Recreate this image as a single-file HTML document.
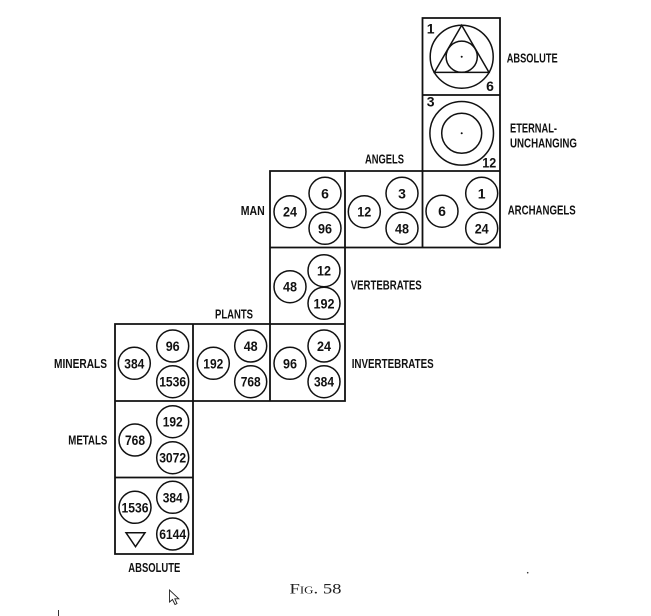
<!DOCTYPE html>
<html><head><meta charset="utf-8"><style>
html,body{margin:0;padding:0;background:#fff;}
svg{display:block;}
.l{font-family:"Liberation Sans",sans-serif;font-weight:bold;font-size:12.5px;fill:#111;}
.n{font-family:"Liberation Sans",sans-serif;font-weight:bold;font-size:14px;fill:#111;text-anchor:middle;}
</style></head><body>
<svg width="651" height="616" viewBox="0 0 651 616" xmlns="http://www.w3.org/2000/svg">
<rect width="651" height="616" fill="#fff"/>
<g fill="none" stroke="#111" stroke-width="1.8">
<path d="M422.5,18 L500,18 L500,247.5 L345,247.5 L345,401 L193,401 L193,554 L115,554 L115,324 L270,324 L270,171 L422.5,171 Z"/>
<path d="M422.5,95 H500 M422.5,171 H500 M345,171 V247.5 M422.5,171 V247.5 M270,247.5 H345 M270,324 H345 M193,324 V401 M270,324 V401 M115,401 H193 M115,477.5 H193"/>
</g>
<!-- top cell -->
<g fill="none" stroke="#111" stroke-width="1.5">
<circle cx="461.7" cy="56.7" r="31.5"/>
<polygon points="461.7,25.2 489,72.4 434.4,72.4"/>
<circle cx="461.7" cy="56.7" r="15.6"/>
<circle cx="461.7" cy="133.3" r="31.8"/>
<circle cx="461.7" cy="133.3" r="20"/>
</g>
<circle cx="461.7" cy="56.7" r="1" fill="#111"/>
<circle cx="461.7" cy="133.3" r="1" fill="#111"/>
<text class="n" x="430.7" y="33.3">1</text>
<text class="n" x="490" y="91">6</text>
<text class="n" x="430.7" y="106.7">3</text>
<text class="n" x="489.3" y="167.7" textLength="14" lengthAdjust="spacingAndGlyphs">12</text>

<!-- circles -->
<g fill="none" stroke="#111" stroke-width="1.5">
<circle cx="290" cy="211.7" r="16"/><circle cx="325" cy="193.3" r="16"/><circle cx="325" cy="228.3" r="16"/>
<circle cx="364.3" cy="211.7" r="16"/><circle cx="402" cy="193.3" r="16"/><circle cx="402" cy="228.3" r="16"/>
<circle cx="442" cy="211.2" r="16"/><circle cx="481.7" cy="193.3" r="16"/><circle cx="481.7" cy="228.3" r="16"/>
<circle cx="290" cy="286.7" r="16"/><circle cx="324" cy="270.7" r="16"/><circle cx="324" cy="303.3" r="16"/>
<circle cx="134.3" cy="363.3" r="16"/><circle cx="172.7" cy="346" r="16"/><circle cx="172.7" cy="381.7" r="16"/>
<circle cx="213.3" cy="363.3" r="16"/><circle cx="250.7" cy="346" r="16"/><circle cx="250.7" cy="381.7" r="16"/>
<circle cx="290" cy="363.3" r="16"/><circle cx="324" cy="346" r="16"/><circle cx="324" cy="381.7" r="16"/>
<circle cx="135" cy="440" r="16"/><circle cx="172.7" cy="421.7" r="16"/><circle cx="172.7" cy="457.7" r="16"/>
<circle cx="135" cy="507.3" r="16"/><circle cx="172.7" cy="497.3" r="16"/><circle cx="172.7" cy="534" r="16"/>
<polygon points="126,532.7 145,532.7 135.5,546.7"/>
</g>
<g>
<text class="n" x="290" y="216.7" textLength="14" lengthAdjust="spacingAndGlyphs">24</text>
<text class="n" x="325" y="198.3">6</text>
<text class="n" x="325" y="233.3" textLength="14" lengthAdjust="spacingAndGlyphs">96</text>
<text class="n" x="364.3" y="216.7" textLength="14" lengthAdjust="spacingAndGlyphs">12</text>
<text class="n" x="402" y="198.3">3</text>
<text class="n" x="402" y="233.3" textLength="14" lengthAdjust="spacingAndGlyphs">48</text>
<text class="n" x="442" y="216.2">6</text>
<text class="n" x="481.7" y="198.3">1</text>
<text class="n" x="481.7" y="233.3" textLength="14" lengthAdjust="spacingAndGlyphs">24</text>
<text class="n" x="290" y="291.7" textLength="14" lengthAdjust="spacingAndGlyphs">48</text>
<text class="n" x="324" y="275.7" textLength="14" lengthAdjust="spacingAndGlyphs">12</text>
<text class="n" x="324" y="308.3" textLength="21" lengthAdjust="spacingAndGlyphs">192</text>
<text class="n" x="134.3" y="368.3" textLength="20" lengthAdjust="spacingAndGlyphs">384</text>
<text class="n" x="172.7" y="351" textLength="14" lengthAdjust="spacingAndGlyphs">96</text>
<text class="n" x="172.7" y="386.7" textLength="27" lengthAdjust="spacingAndGlyphs">1536</text>
<text class="n" x="213.3" y="368.3" textLength="20" lengthAdjust="spacingAndGlyphs">192</text>
<text class="n" x="250.7" y="351" textLength="14" lengthAdjust="spacingAndGlyphs">48</text>
<text class="n" x="250.7" y="386.7" textLength="20" lengthAdjust="spacingAndGlyphs">768</text>
<text class="n" x="290" y="368.3" textLength="14" lengthAdjust="spacingAndGlyphs">96</text>
<text class="n" x="324" y="351" textLength="14" lengthAdjust="spacingAndGlyphs">24</text>
<text class="n" x="324" y="386.7" textLength="20" lengthAdjust="spacingAndGlyphs">384</text>
<text class="n" x="135" y="445" textLength="20" lengthAdjust="spacingAndGlyphs">768</text>
<text class="n" x="172.7" y="426.7" textLength="20" lengthAdjust="spacingAndGlyphs">192</text>
<text class="n" x="172.7" y="462.7" textLength="27" lengthAdjust="spacingAndGlyphs">3072</text>
<text class="n" x="135" y="512.3" textLength="27" lengthAdjust="spacingAndGlyphs">1536</text>
<text class="n" x="172.7" y="502.3" textLength="20" lengthAdjust="spacingAndGlyphs">384</text>
<text class="n" x="172.7" y="539" textLength="27" lengthAdjust="spacingAndGlyphs">6144</text>
</g>
<!-- labels -->
<g>
<text class="l" x="506.7" y="62.5" textLength="51" lengthAdjust="spacingAndGlyphs">ABSOLUTE</text>
<text class="l" x="510" y="132.5" textLength="47" lengthAdjust="spacingAndGlyphs">ETERNAL-</text>
<text class="l" x="510" y="147.5" textLength="67" lengthAdjust="spacingAndGlyphs">UNCHANGING</text>
<text class="l" x="365" y="163.5" textLength="39" lengthAdjust="spacingAndGlyphs">ANGELS</text>
<text class="l" x="240.7" y="215.2" textLength="24" lengthAdjust="spacingAndGlyphs">MAN</text>
<text class="l" x="507.7" y="214.5" textLength="68" lengthAdjust="spacingAndGlyphs">ARCHANGELS</text>
<text class="l" x="350.7" y="289.5" textLength="71" lengthAdjust="spacingAndGlyphs">VERTEBRATES</text>
<text class="l" x="215" y="318.5" textLength="38" lengthAdjust="spacingAndGlyphs">PLANTS</text>
<text class="l" x="54" y="367.8" textLength="53" lengthAdjust="spacingAndGlyphs">MINERALS</text>
<text class="l" x="351.7" y="367.8" textLength="82" lengthAdjust="spacingAndGlyphs">INVERTEBRATES</text>
<text class="l" x="68.3" y="444.5" textLength="39" lengthAdjust="spacingAndGlyphs">METALS</text>
<text class="l" x="128.3" y="572.2" textLength="52" lengthAdjust="spacingAndGlyphs">ABSOLUTE</text>
</g>
<!-- caption -->
<text x="289.5" y="593.5" style="font-family:'Liberation Serif',serif;font-size:14.5px;font-variant:small-caps;fill:#222;" textLength="52" lengthAdjust="spacingAndGlyphs">Fig. 58</text>
<circle cx="527.7" cy="572.7" r="0.8" fill="#333"/>
<!-- cursor -->
<polygon points="169.5,590 169.5,602 172.5,599.5 175,604.5 177,603.5 174.8,598.8 178.8,598.8" fill="#fff" stroke="#222" stroke-width="0.9"/>
<line x1="58.5" y1="610" x2="58.5" y2="616" stroke="#333" stroke-width="1"/>
</svg>
</body></html>
